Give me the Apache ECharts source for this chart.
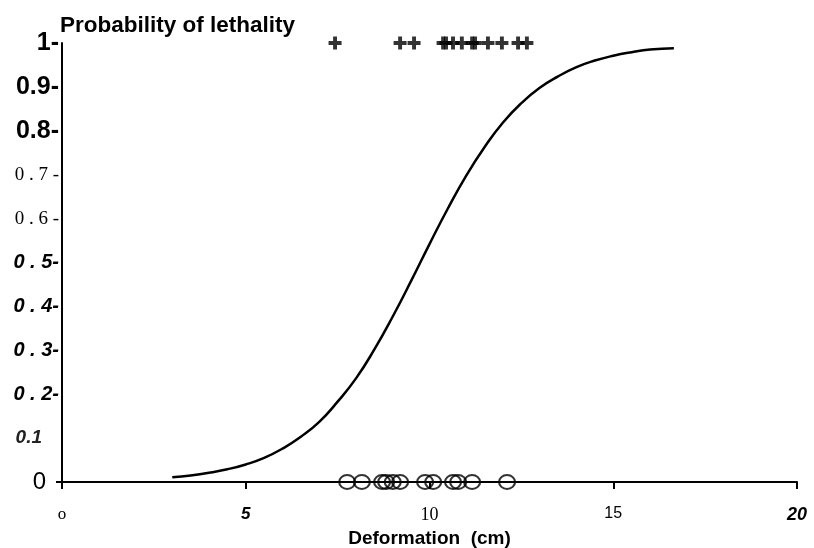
<!DOCTYPE html>
<html>
<head>
<meta charset="utf-8">
<script src="https://cdn.jsdelivr.net/npm/echarts@6/dist/echarts.min.js"></script>
<style>html,body{margin:0;padding:0;background:#fff}#c{width:814px;height:548px}</style>
</head>
<body>
<div id="c"></div>
<script>
// ---- data ----
const curveX = [3, 3.5, 4, 4.5, 5, 5.5, 6, 6.5, 7, 7.5, 8, 8.5, 9, 9.5, 10, 10.5, 11, 11.5, 12, 12.5, 13, 13.5, 14, 14.5, 15, 15.5, 16, 16.65];
const curveY = [0.011, 0.015, 0.021, 0.029, 0.040, 0.055, 0.076, 0.103, 0.137, 0.183, 0.236, 0.302, 0.377, 0.458, 0.542, 0.623, 0.698, 0.763, 0.819, 0.863, 0.898, 0.924, 0.945, 0.960, 0.971, 0.979, 0.985, 0.988];
const lethalX = [7.43, 9.2, 9.58, 10.37, 10.45, 10.64, 10.88, 11.16, 11.24, 11.59, 11.97, 12.41, 12.65];
const lethalY = [1, 1, 1, 1, 1, 1, 1, 1, 1, 1, 1, 1, 1];
const survX = [7.76, 8.16, 8.71, 8.82, 9.0, 9.2, 9.88, 10.1, 10.64, 10.78, 11.16, 12.11];
const survY = [0, 0, 0, 0, 0, 0, 0, 0, 0, 0, 0, 0];
const xTickValues = [0, 5, 10, 15, 20];
const xTickLabels = ['o', '5', '10', '15', '20'];
const yTickValues = [0, 0.1, 0.2, 0.3, 0.4, 0.5, 0.6, 0.7, 0.8, 0.9, 1];
const yTickLabels = ['0', '0.1', '0 . 2-', '0 . 3-', '0 . 4-', '0 . 5-', '0 . 6 -', '0 . 7 -', '0.8-', '0.9-', '1-'];
const yTitle = 'Probability of lethality';
const xTitle = 'Deformation  (cm)';

// ---- styles for the mixed-font tick labels ----
const yStyles = ['z', 'bi2', 'bi', 'bi', 'bi', 'bi', 's', 's', 'b', 'b', 'b'];
const xStyles = ['so', 'bi', 's', 'n', 'bi2'];

const chart = echarts.init(document.getElementById('c'));
const plus = 'path://M3.5,0h3v3.5h3.5v3h-3.5v3.5h-3v-3.5h-3.5v-3h3.5z';

function idxOf(arr, v) {
  let best = 0, d = Infinity;
  arr.forEach((a, i) => { const dd = Math.abs(a - v); if (dd < d) { d = dd; best = i; } });
  return best;
}

chart.setOption({
  animation: false,
  backgroundColor: '#fff',
  title: {
    text: yTitle, left: 55, top: 9,
    textStyle: { fontFamily: 'Liberation Sans, Arial', fontWeight: 'bold', fontSize: 22.5, color: '#000' }
  },
  grid: { left: 62, right: 17, top: 43, bottom: 66, containLabel: false, outerBoundsMode: 'none' },
  xAxis: {
    type: 'value', min: 0, max: 20, interval: 5,
    name: xTitle, nameLocation: 'middle', nameGap: 42,
    nameTextStyle: { fontFamily: 'Liberation Sans, Arial', fontWeight: 'bold', fontSize: 19, color: '#000' },
    axisLine: { show: true, onZero: false, lineStyle: { color: '#000', width: 2 } },
    axisTick: { show: true, length: 7, lineStyle: { color: '#000', width: 2 } },
    splitLine: { show: false },
    axisLabel: {
      margin: 24,
      formatter: function (v) { const i = idxOf(xTickValues, v); return '{' + xStyles[i] + '|' + xTickLabels[i] + '}'; },
      rich: {
        so: { fontFamily: 'Liberation Serif, Times New Roman', fontSize: 17, color: '#000' },
        bi: { fontFamily: 'Liberation Sans, Arial', fontWeight: 'bold', fontStyle: 'italic', fontSize: 17, color: '#000' },
        bi2: { fontFamily: 'Liberation Sans, Arial', fontWeight: 'bold', fontStyle: 'italic', fontSize: 18, color: '#000' },
        s: { fontFamily: 'Liberation Serif, Times New Roman', fontSize: 18, color: '#000' },
        n: { fontFamily: 'Liberation Sans Narrow, Liberation Sans, Arial', fontSize: 16, color: '#000' }
      }
    }
  },
  yAxis: {
    type: 'value', min: 0, max: 1, interval: 0.1,
    axisLine: { show: true, onZero: false, lineStyle: { color: '#000', width: 2 } },
    axisTick: { show: true, length: 6, customValues: [0], lineStyle: { color: '#000', width: 2 } },
    splitLine: { show: false },
    axisLabel: {
      margin: 3,
      formatter: function (v) { const i = idxOf(yTickValues, v); return '{' + yStyles[i] + '|' + yTickLabels[i] + '}'; },
      rich: {
        b: { fontFamily: 'Liberation Sans, Arial', fontWeight: 'bold', fontSize: 25, color: '#000' },
        s: { fontFamily: 'Liberation Serif, Times New Roman', fontSize: 19, color: '#000' },
        bi: { fontFamily: 'Liberation Sans, Arial', fontWeight: 'bold', fontStyle: 'italic', fontSize: 20, color: '#000' },
        bi2: { fontFamily: 'Liberation Sans, Arial', fontWeight: 'bold', fontStyle: 'italic', fontSize: 19, color: '#222', padding: [0, 17, 0, 0] },
        z: { fontFamily: 'Liberation Sans, Arial', fontSize: 24, color: '#000', padding: [0, 13, 0, 0] }
      }
    }
  },
  series: [
    {
      type: 'line', data: curveX.map((x, i) => [x, curveY[i]]),
      smooth: true, showSymbol: false, symbol: 'none',
      lineStyle: { color: '#000', width: 2.5 }, z: 3
    },
    {
      type: 'scatter', data: lethalX.map((x, i) => [x, lethalY[i]]),
      symbol: plus, symbolSize: 13, itemStyle: { color: '#000' }, z: 4
    },
    {
      type: 'scatter', data: survX.map((x, i) => [x, survY[i]]),
      symbol: 'circle', symbolSize: [16, 14],
      itemStyle: { color: 'rgba(0,0,0,0)', borderColor: '#000', borderWidth: 2 }, z: 4
    }
  ]
});
</script>
</body>
</html>
